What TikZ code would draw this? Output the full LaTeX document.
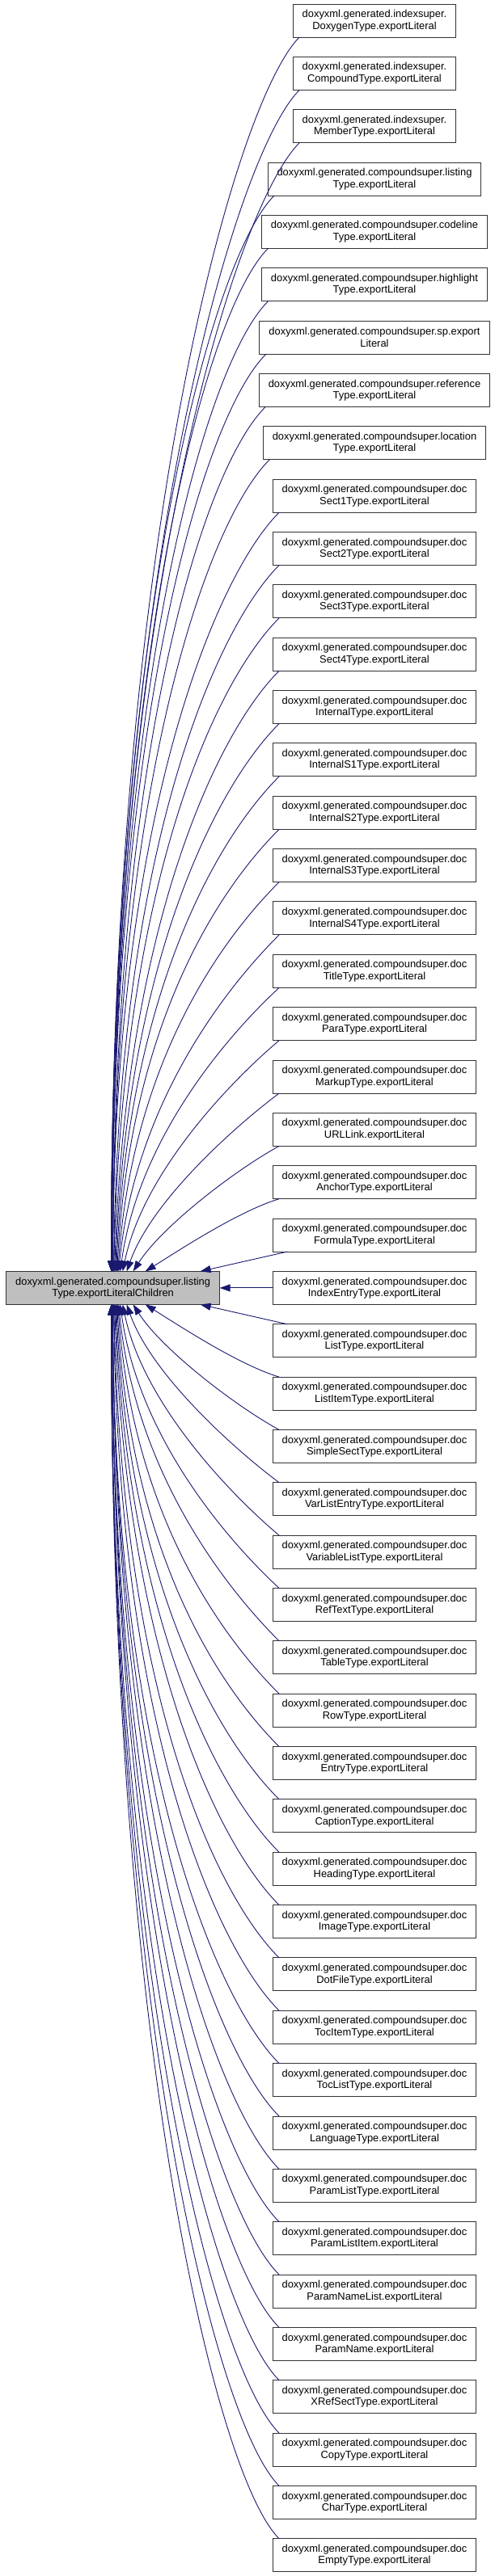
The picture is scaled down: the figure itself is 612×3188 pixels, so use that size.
\documentclass[tikz,border=0pt]{standalone}
\usepackage{fontspec}
\setmainfont{Liberation Sans}
\usetikzlibrary{positioning, arrows.meta}
\definecolor{edgeblue}{HTML}{191970}
\definecolor{curgray}{HTML}{BFBFBF}

\begin{document}
\begin{tikzpicture}[
  x=1pt, y=1pt,
  block/.style={
    rectangle,
    draw=black!80,
    line width=1pt,
    align=center,
    minimum height=41pt,
    inner xsep=11.5pt,
    inner ysep=0pt,
    outer sep=0pt,
    fill=white,
    font=\fontsize{12.9}{14.5}\selectfont
  },
  current/.style={block, fill=curgray},
  arrow/.style={-{Triangle[length=13pt, width=9pt]}, line width=0.9pt, draw=edgeblue},
  node distance=24.35pt
]
\useasboundingbox (0,0) rectangle (612,-3188);

\node[block] (dox) at (463,-25.5) {doxyxml.generated.indexsuper.\\DoxygenType.exportLiteral};
\node[block, below=of dox] (cmpd) {doxyxml.generated.indexsuper.\\CompoundType.exportLiteral};
\node[block, below=of cmpd] (mbr) {doxyxml.generated.indexsuper.\\MemberType.exportLiteral};
\node[block, below=of mbr] (listing) {doxyxml.generated.compoundsuper.listing\\Type.exportLiteral};
\node[block, below=of listing] (codeline) {doxyxml.generated.compoundsuper.codeline\\Type.exportLiteral};
\node[block, below=of codeline] (highlight) {doxyxml.generated.compoundsuper.highlight\\Type.exportLiteral};
\node[block, below=of highlight] (sp) {doxyxml.generated.compoundsuper.sp.export\\Literal};
\node[block, below=of sp] (reference) {doxyxml.generated.compoundsuper.reference\\Type.exportLiteral};
\node[block, below=of reference] (location) {doxyxml.generated.compoundsuper.location\\Type.exportLiteral};
\node[block, below=of location] (sect1) {doxyxml.generated.compoundsuper.doc\\Sect1Type.exportLiteral};
\node[block, below=of sect1] (sect2) {doxyxml.generated.compoundsuper.doc\\Sect2Type.exportLiteral};
\node[block, below=of sect2] (sect3) {doxyxml.generated.compoundsuper.doc\\Sect3Type.exportLiteral};
\node[block, below=of sect3] (sect4) {doxyxml.generated.compoundsuper.doc\\Sect4Type.exportLiteral};
\node[block, below=of sect4] (internal) {doxyxml.generated.compoundsuper.doc\\InternalType.exportLiteral};
\node[block, below=of internal] (is1) {doxyxml.generated.compoundsuper.doc\\InternalS1Type.exportLiteral};
\node[block, below=of is1] (is2) {doxyxml.generated.compoundsuper.doc\\InternalS2Type.exportLiteral};
\node[block, below=of is2] (is3) {doxyxml.generated.compoundsuper.doc\\InternalS3Type.exportLiteral};
\node[block, below=of is3] (is4) {doxyxml.generated.compoundsuper.doc\\InternalS4Type.exportLiteral};
\node[block, below=of is4] (title) {doxyxml.generated.compoundsuper.doc\\TitleType.exportLiteral};
\node[block, below=of title] (para) {doxyxml.generated.compoundsuper.doc\\ParaType.exportLiteral};
\node[block, below=of para] (markup) {doxyxml.generated.compoundsuper.doc\\MarkupType.exportLiteral};
\node[block, below=of markup] (urllink) {doxyxml.generated.compoundsuper.doc\\URLLink.exportLiteral};
\node[block, below=of urllink] (anchor) {doxyxml.generated.compoundsuper.doc\\AnchorType.exportLiteral};
\node[block, below=of anchor] (formula) {doxyxml.generated.compoundsuper.doc\\FormulaType.exportLiteral};
\node[block, below=of formula] (indexentry) {doxyxml.generated.compoundsuper.doc\\IndexEntryType.exportLiteral};
\node[block, below=of indexentry] (list) {doxyxml.generated.compoundsuper.doc\\ListType.exportLiteral};
\node[block, below=of list] (listitem) {doxyxml.generated.compoundsuper.doc\\ListItemType.exportLiteral};
\node[block, below=of listitem] (simplesect) {doxyxml.generated.compoundsuper.doc\\SimpleSectType.exportLiteral};
\node[block, below=of simplesect] (varlistentry) {doxyxml.generated.compoundsuper.doc\\VarListEntryType.exportLiteral};
\node[block, below=of varlistentry] (variablelist) {doxyxml.generated.compoundsuper.doc\\VariableListType.exportLiteral};
\node[block, below=of variablelist] (reftext) {doxyxml.generated.compoundsuper.doc\\RefTextType.exportLiteral};
\node[block, below=of reftext] (table) {doxyxml.generated.compoundsuper.doc\\TableType.exportLiteral};
\node[block, below=of table] (row) {doxyxml.generated.compoundsuper.doc\\RowType.exportLiteral};
\node[block, below=of row] (entry) {doxyxml.generated.compoundsuper.doc\\EntryType.exportLiteral};
\node[block, below=of entry] (caption) {doxyxml.generated.compoundsuper.doc\\CaptionType.exportLiteral};
\node[block, below=of caption] (heading) {doxyxml.generated.compoundsuper.doc\\HeadingType.exportLiteral};
\node[block, below=of heading] (image) {doxyxml.generated.compoundsuper.doc\\ImageType.exportLiteral};
\node[block, below=of image] (dotfile) {doxyxml.generated.compoundsuper.doc\\DotFileType.exportLiteral};
\node[block, below=of dotfile] (tocitem) {doxyxml.generated.compoundsuper.doc\\TocItemType.exportLiteral};
\node[block, below=of tocitem] (toclist) {doxyxml.generated.compoundsuper.doc\\TocListType.exportLiteral};
\node[block, below=of toclist] (language) {doxyxml.generated.compoundsuper.doc\\LanguageType.exportLiteral};
\node[block, below=of language] (paramlist) {doxyxml.generated.compoundsuper.doc\\ParamListType.exportLiteral};
\node[block, below=of paramlist] (paramlistitem) {doxyxml.generated.compoundsuper.doc\\ParamListItem.exportLiteral};
\node[block, below=of paramlistitem] (paramnamelist) {doxyxml.generated.compoundsuper.doc\\ParamNameList.exportLiteral};
\node[block, below=of paramnamelist] (paramname) {doxyxml.generated.compoundsuper.doc\\ParamName.exportLiteral};
\node[block, below=of paramname] (xrefsect) {doxyxml.generated.compoundsuper.doc\\XRefSectType.exportLiteral};
\node[block, below=of xrefsect] (copy) {doxyxml.generated.compoundsuper.doc\\CopyType.exportLiteral};
\node[block, below=of copy] (char) {doxyxml.generated.compoundsuper.doc\\CharType.exportLiteral};
\node[block, below=of char] (empty) {doxyxml.generated.compoundsuper.doc\\EmptyType.exportLiteral};

\node[current, left=65.5pt of indexentry] (expchildren) {doxyxml.generated.compoundsuper.listing\\Type.exportLiteralChildren};

% callers above
\draw[arrow] ([xshift=8pt]dox.south west) .. controls +(-80,-80) and +(-2,900) .. ([xshift=-2pt]expchildren.north);
\draw[arrow] ([xshift=8pt]cmpd.south west) .. controls +(-80,-80) and +(-2,860) .. ([xshift=-2pt]expchildren.north);
\draw[arrow] ([xshift=8pt]mbr.south west) .. controls +(-80,-80) and +(-2,825) .. ([xshift=-2pt]expchildren.north);
\draw[arrow] ([xshift=8pt]listing.south west) .. controls +(-80,-80) and +(-2,785) .. ([xshift=-2pt]expchildren.north);
\draw[arrow] ([xshift=8pt]codeline.south west) .. controls +(-80,-80) and +(-1,745) .. ([xshift=-1pt]expchildren.north);
\draw[arrow] ([xshift=8pt]highlight.south west) .. controls +(-80,-80) and +(-1,710) .. ([xshift=-1pt]expchildren.north);
\draw[arrow] ([xshift=8pt]sp.south west) .. controls +(-80,-80) and +(-1,670) .. ([xshift=-1pt]expchildren.north);
\draw[arrow] ([xshift=8pt]reference.south west) .. controls +(-80,-80) and +(0,630) .. (expchildren.north);
\draw[arrow] ([xshift=8pt]location.south west) .. controls +(-80,-80) and +(0,590) .. (expchildren.north);
\draw[arrow] ([xshift=8pt]sect1.south west) .. controls +(-80,-80) and +(0,555) .. (expchildren.north);
\draw[arrow] ([xshift=8pt]sect2.south west) .. controls +(-80,-80) and +(5,515) .. ([xshift=1pt]expchildren.north);
\draw[arrow] ([xshift=8pt]sect3.south west) .. controls +(-80,-80) and +(10,480) .. ([xshift=1pt]expchildren.north);
\draw[arrow] ([xshift=8pt]sect4.south west) .. controls +(-80,-80) and +(13,420) .. ([xshift=2pt]expchildren.north);
\draw[arrow] ([xshift=8pt]internal.south west) .. controls +(-80,-80) and +(14,380) .. ([xshift=3pt]expchildren.north);
\draw[arrow] ([xshift=8pt]is1.south west) .. controls +(-80,-80) and +(15,340) .. ([xshift=4pt]expchildren.north);
\draw[arrow] ([xshift=8pt]is2.south west) .. controls +(-80,-80) and +(16,300) .. ([xshift=5pt]expchildren.north);
\draw[arrow] ([xshift=8pt]is3.south west) .. controls +(-80,-80) and +(18,250) .. ([xshift=6pt]expchildren.north);
\draw[arrow] ([xshift=8pt]is4.south west) .. controls +(-75,-75) and +(20,200) .. ([xshift=7pt]expchildren.north);
\draw[arrow] ([xshift=8pt]title.south west) .. controls +(-70,-65) and +(22,160) .. ([xshift=9pt]expchildren.north);
\draw[arrow] ([xshift=8pt]para.south west) .. controls +(-65,-55) and +(25,120) .. ([xshift=12pt]expchildren.north);
\draw[arrow] ([xshift=8pt]markup.south west) .. controls +(-60,-45) and +(30,85) .. ([xshift=17pt]expchildren.north);
\draw[arrow] ([xshift=8pt]urllink.south west) .. controls +(-55,-30) and +(35,55) .. ([xshift=25pt]expchildren.north);
\draw[arrow] ([xshift=8pt]anchor.south west) .. controls +(-50,-15) and +(40,25) .. ([xshift=40pt]expchildren.north);
\draw[arrow] ([xshift=18pt]formula.south west) -- ([xshift=108pt]expchildren.north);

\draw[arrow] (indexentry) -- (expchildren);

% callers below
\draw[arrow] ([xshift=18pt]list.north west) -- ([xshift=108pt]expchildren.south);
\draw[arrow] ([xshift=8pt]listitem.north west) .. controls +(-50,15) and +(40,-25) .. ([xshift=40pt]expchildren.south);
\draw[arrow] ([xshift=8pt]simplesect.north west) .. controls +(-55,30) and +(35,-55) .. ([xshift=25pt]expchildren.south);
\draw[arrow] ([xshift=8pt]varlistentry.north west) .. controls +(-60,45) and +(30,-85) .. ([xshift=17pt]expchildren.south);
\draw[arrow] ([xshift=8pt]variablelist.north west) .. controls +(-65,55) and +(25,-120) .. ([xshift=12pt]expchildren.south);
\draw[arrow] ([xshift=8pt]reftext.north west) .. controls +(-70,65) and +(22,-160) .. ([xshift=9pt]expchildren.south);
\draw[arrow] ([xshift=8pt]table.north west) .. controls +(-75,75) and +(20,-200) .. ([xshift=7pt]expchildren.south);
\draw[arrow] ([xshift=8pt]row.north west) .. controls +(-80,80) and +(18,-250) .. ([xshift=6pt]expchildren.south);
\draw[arrow] ([xshift=8pt]entry.north west) .. controls +(-80,80) and +(16,-300) .. ([xshift=5pt]expchildren.south);
\draw[arrow] ([xshift=8pt]caption.north west) .. controls +(-80,80) and +(15,-340) .. ([xshift=4pt]expchildren.south);
\draw[arrow] ([xshift=8pt]heading.north west) .. controls +(-80,80) and +(14,-380) .. ([xshift=3pt]expchildren.south);
\draw[arrow] ([xshift=8pt]image.north west) .. controls +(-80,80) and +(13,-420) .. ([xshift=2pt]expchildren.south);
\draw[arrow] ([xshift=8pt]dotfile.north west) .. controls +(-80,80) and +(10,-480) .. ([xshift=1pt]expchildren.south);
\draw[arrow] ([xshift=8pt]tocitem.north west) .. controls +(-80,80) and +(5,-515) .. ([xshift=1pt]expchildren.south);
\draw[arrow] ([xshift=8pt]toclist.north west) .. controls +(-80,80) and +(0,-555) .. (expchildren.south);
\draw[arrow] ([xshift=8pt]language.north west) .. controls +(-80,80) and +(0,-590) .. (expchildren.south);
\draw[arrow] ([xshift=8pt]paramlist.north west) .. controls +(-80,80) and +(0,-630) .. (expchildren.south);
\draw[arrow] ([xshift=8pt]paramlistitem.north west) .. controls +(-80,80) and +(-1,-670) .. ([xshift=-1pt]expchildren.south);
\draw[arrow] ([xshift=8pt]paramnamelist.north west) .. controls +(-80,80) and +(-1,-710) .. ([xshift=-1pt]expchildren.south);
\draw[arrow] ([xshift=8pt]paramname.north west) .. controls +(-80,80) and +(-1,-745) .. ([xshift=-1pt]expchildren.south);
\draw[arrow] ([xshift=8pt]xrefsect.north west) .. controls +(-80,80) and +(-2,-785) .. ([xshift=-2pt]expchildren.south);
\draw[arrow] ([xshift=8pt]copy.north west) .. controls +(-80,80) and +(-2,-825) .. ([xshift=-2pt]expchildren.south);
\draw[arrow] ([xshift=8pt]char.north west) .. controls +(-80,80) and +(-2,-860) .. ([xshift=-2pt]expchildren.south);
\draw[arrow] ([xshift=8pt]empty.north west) .. controls +(-80,80) and +(-2,-900) .. ([xshift=-2pt]expchildren.south);

\end{tikzpicture}
\end{document}
